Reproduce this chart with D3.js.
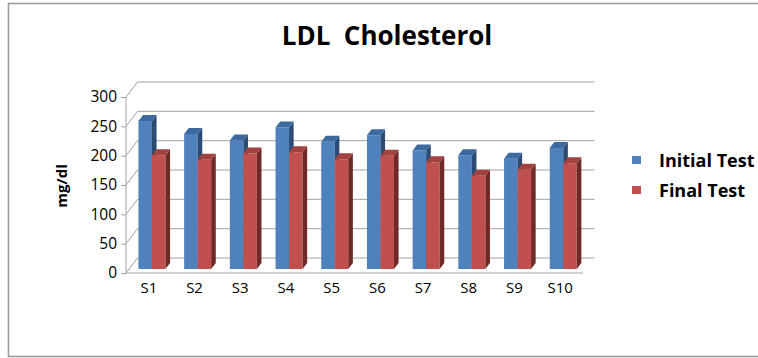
<!DOCTYPE html>
<html>
<head>
<meta charset="utf-8">
<script src="https://cdn.jsdelivr.net/npm/d3@7"></script>
<style>
  html, body { margin: 0; padding: 0; background: #fff; }
  svg { display: block; }
  text { font-family: "Open Sans", Lato, "Liberation Sans", sans-serif; fill: #000; }
</style>
</head>
<body>
<svg id="chart" width="758" height="358"></svg>
<script>
// LDL cholesterol per subject, before and after
const categories = ["S1", "S2", "S3", "S4", "S5", "S6", "S7", "S8", "S9", "S10"];
const seriesNames = ["Initial Test", "Final Test"];
const initialTest = [252, 230, 219, 241, 217, 228, 202, 194, 188, 206];
const finalTest = [194, 186, 197, 199, 187, 193, 182, 159, 169, 180];
const yTicks = [0, 50, 100, 150, 200, 250, 300];
const seriesColors = ["#4F81BD", "#C0504D"];
const topColors = ["#3C6AA0", "#A2423F"];
const sideColors = ["#2B4B73", "#6F2A28"];

const svg = d3.select("#chart");

// Frame
svg.append("rect")
  .attr("x", 8.5).attr("y", 3.5)
  .attr("width", 760).attr("height", 353)
  .attr("fill", "#fff").attr("stroke", "#9c9c9c").attr("stroke-width", 1.6);

// Title
svg.append("text")
  .attr("x", 387).attr("y", 45)
  .attr("text-anchor", "middle")
  .style("font-size", "26px").style("font-weight", "bold")
  .style("white-space", "pre")
  .text("LDL  Cholesterol");

// Front plane of the 3D plot
const x0 = 126, x1 = 583, yBase = 273, yTop = 97;
// Depth offset of the back wall
const DX = 11.5, DY = 15;
const proj = (x, y, t) => [x + DX * t, y - DY * t];

const x = d3.scaleBand().domain(categories).range([x0, x1]).paddingInner(0).paddingOuter(0);
const inner = d3.scaleBand().domain(seriesNames).range([0, x.bandwidth()]).paddingOuter(0.69).paddingInner(0);
const y = d3.scaleLinear().domain([0, 300]).range([yBase, yTop]);

const gridColor = "#a3a3a3";
const grid = svg.append("g");
yTicks.forEach(v => {
  const yy = y(v);
  const a = proj(x0, yy, 0), b = proj(x0, yy, 1), c = proj(x1, yy, 1);
  // side wall diagonal + back wall line
  grid.append("path")
    .attr("d", `M${a[0]},${a[1]}L${b[0]},${b[1]}L${c[0]},${c[1]}`)
    .attr("fill", "none").attr("stroke", gridColor).attr("stroke-width", 1);
});

// Floor front edge and vertical axis
grid.append("path")
  .attr("d", `M${x0},${yTop}L${x0},${yBase}L${x1},${yBase}`)
  .attr("fill", "none").attr("stroke", gridColor).attr("stroke-width", 1);

// Y axis ticks and labels
const yAxis = d3.axisLeft(y).tickValues(yTicks).tickSize(5).tickPadding(4);
const gy = svg.append("g").attr("transform", `translate(${x0},0)`).call(yAxis);
gy.select(".domain").remove();
gy.selectAll(".tick line").attr("stroke", gridColor);
gy.selectAll(".tick text").style("font-size", "15.5px").attr("fill", "#000");

// Category labels
const xAxis = d3.axisBottom(x).tickSize(0).tickPadding(9);
const gx = svg.append("g").attr("transform", `translate(0,${yBase})`).call(xAxis);
gx.select(".domain").remove();
gx.selectAll(".tick text").style("font-size", "15px").attr("fill", "#000");

// Y axis title
svg.append("text")
  .attr("transform", "translate(67,186) rotate(-90)")
  .attr("text-anchor", "middle")
  .style("font-size", "15px").style("font-weight", "bold")
  .text("mg/dl");

// 3D bars
const t0 = 0.27, t1 = 0.67;
const seriesValues = [initialTest, finalTest];
const bars = svg.append("g");
categories.forEach((cat, i) => {
  seriesValues.forEach((vals, s) => {
    const bx0 = x(cat) + inner(seriesNames[s]);
    const bx1 = bx0 + inner.bandwidth();
    const yb = y(0), yt = y(vals[i]);
    const pt = (xx, yy, t) => proj(xx, yy, t).join(",");
    // front face
    bars.append("polygon")
      .attr("points", [pt(bx0, yb, t0), pt(bx1, yb, t0), pt(bx1, yt, t0), pt(bx0, yt, t0)].join(" "))
      .attr("fill", seriesColors[s]);
    // side face
    bars.append("polygon")
      .attr("points", [pt(bx1, yb, t0), pt(bx1, yb, t1), pt(bx1, yt, t1), pt(bx1, yt, t0)].join(" "))
      .attr("fill", sideColors[s]);
    // top face
    bars.append("polygon")
      .attr("points", [pt(bx0, yt, t0), pt(bx1, yt, t0), pt(bx1, yt, t1), pt(bx0, yt, t1)].join(" "))
      .attr("fill", topColors[s]);
  });
});

// Legend
const legend = svg.append("g");
seriesNames.forEach((name, s) => {
  const ly = 160 + s * 30;
  legend.append("rect")
    .attr("x", 632).attr("y", ly - 4).attr("width", 9).attr("height", 8)
    .attr("fill", seriesColors[s]);
  legend.append("text")
    .attr("x", 659).attr("y", ly + 7)
    .style("font-size", "18px").style("font-weight", "bold")
    .text(name);
});
</script>
</body>
</html>
